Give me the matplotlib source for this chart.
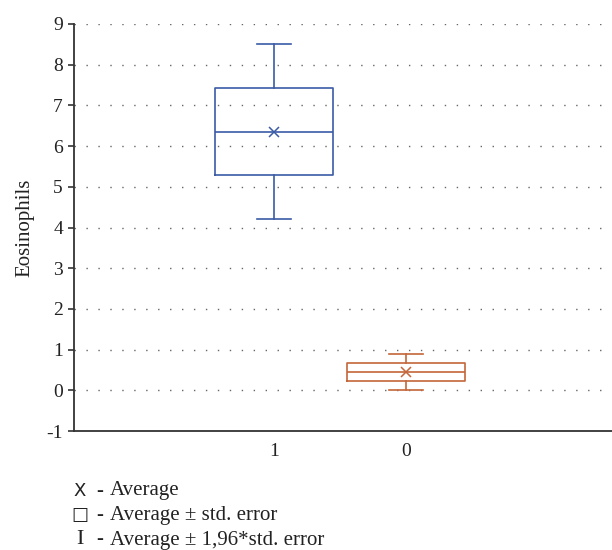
import matplotlib
matplotlib.use('Agg')
import matplotlib.pyplot as plt

# ----- data -----
groups = ['1', '0']
means = [6.35, 0.46]
box_lo = [5.29, 0.23]      # average - std. error
box_hi = [7.42, 0.67]      # average + std. error
whis_lo = [4.21, 0.00]     # average - 1,96*std. error
whis_hi = [8.51, 0.90]     # average + 1,96*std. error
colors = ['#3b5ba5', '#c4663a']
yticks = list(range(-1, 10))
legend_syms = ['X', '\u25a1', 'I']
legend_txt = ['Average', 'Average \u00b1 std. error', 'Average \u00b1 1,96*std. error']

plt.rcParams['font.family'] = ['Liberation Serif', 'DejaVu Sans']

fig = plt.figure(figsize=(6.12, 5.5), dpi=100)
ax = fig.add_axes([74 / 612, 119 / 550, 538 / 612, 407 / 550])

stats = []
for g, m, ql, qh, wl, wh in zip(groups, means, box_lo, box_hi, whis_lo, whis_hi):
    stats.append(dict(label=g, med=m, mean=m, q1=ql, q3=qh,
                      whislo=wl, whishi=wh, fliers=[]))

pos = list(range(1, len(groups) + 1))
art = ax.bxp(stats, positions=pos, widths=0.9, showmeans=True,
             showfliers=False, patch_artist=False)
for i, c in enumerate(colors):
    art['boxes'][i].set(color=c, linewidth=1.2)
    art['medians'][i].set(color=c, linewidth=1.2)
    art['means'][i].set(marker='x', markeredgecolor=c, markerfacecolor=c,
                        markersize=7, markeredgewidth=1.1)
    for k in (2 * i, 2 * i + 1):
        art['whiskers'][k].set(color=c, linewidth=1.2)
        art['caps'][k].set(color=c, linewidth=1.2, xdata=[pos[i] - 0.13, pos[i] + 0.13])

ax.set_xlim(-0.515, 3.56)
ax.set_ylim(-1, 9)
ax.set_yticks(yticks)
ax.set_yticklabels([str(v) for v in yticks])
ax.set_xticks(pos)
ax.set_xticklabels(groups)
ax.tick_params(axis='x', length=0, pad=9, labelsize=14, colors='#222222')
ax.tick_params(axis='y', length=4, width=1.2, pad=4, labelsize=14,
               colors='#333333', labelcolor='#222222')

for v in yticks[1:]:
    ax.axhline(v, color='#666666', linewidth=1.0, linestyle=(0, (1, 7.6)), zorder=0)

for s in ('top', 'right'):
    ax.spines[s].set_visible(False)
for s in ('left', 'bottom'):
    ax.spines[s].set_color('#333333')
    ax.spines[s].set_linewidth(1.3)

ax.set_ylabel('Eosinophils', fontsize=15, color='#222222', labelpad=9)

# legend text below the plot
for i, (sym, txt) in enumerate(zip(legend_syms, legend_txt)):
    y = 1 - (491 + 24.5 * i) / 550
    if sym == 'I':
        fig.text(80 / 612, y, sym, fontsize=16, ha='center', va='center', color='#222222')
    else:
        fig.text(80 / 612, y, sym, fontsize=13, ha='center', va='center', color='#222222',
                 family=['DejaVu Sans'])
    fig.text(100 / 612, y, '-', fontsize=15, ha='center', va='center', color='#222222')
    fig.text(110 / 612, y, txt, fontsize=15, ha='left', va='center', color='#222222')

fig.savefig('out.png', dpi=100)
